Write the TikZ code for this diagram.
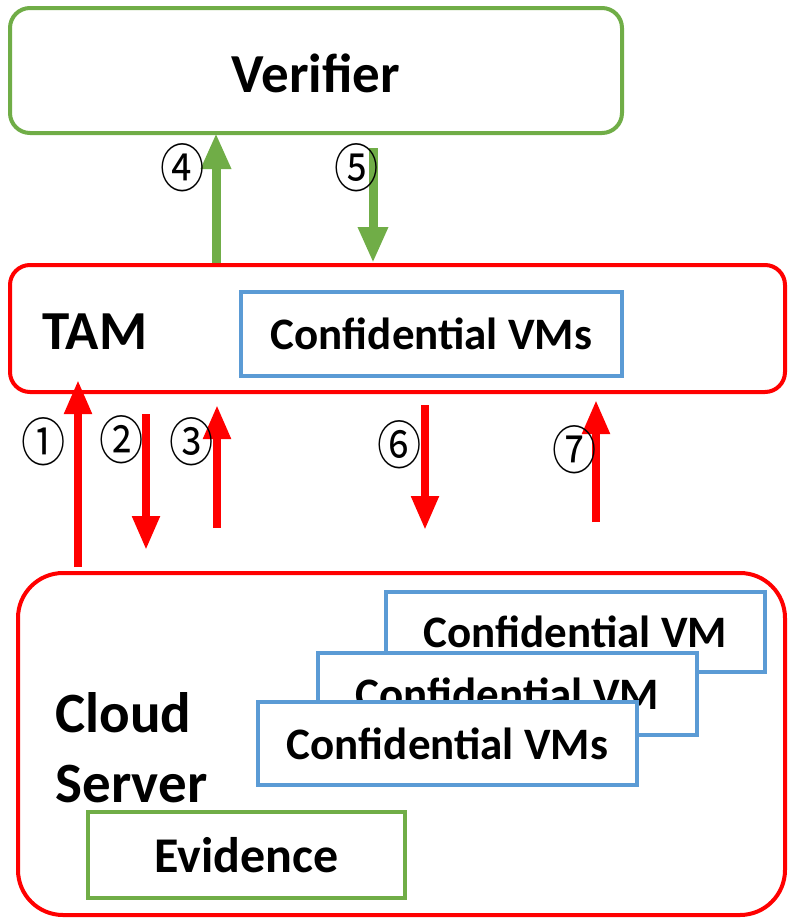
\documentclass[tikz,border=0pt]{standalone}
\usepackage{fontspec}
\setmainfont{Carlito}
\newfontfamily\circfont{Noto Sans CJK JP}
\usetikzlibrary{arrows.meta}
\definecolor{vgreen}{RGB}{112,173,71}
\definecolor{vblue}{RGB}{91,155,213}
\definecolor{vred}{RGB}{255,0,0}
\newcommand{\circn}[1]{\scalebox{0.85}[1]{#1}}
\tikzset{
  greenbox/.style={draw=vgreen, line width=4pt, rounded corners=20pt, fill=white},
  redbox/.style={draw=vred, line width=4pt, rounded corners=20pt, fill=white},
  bluebox/.style={draw=vblue, line width=4pt, fill=white},
  evbox/.style={draw=vgreen, line width=4pt, fill=white},
  bigtext/.style={font=\bfseries\fontsize{55}{66}\selectfont},
  vmtext/.style={font=\bfseries\fontsize{45}{54}\selectfont},
  redarr/.style={draw=vred, line width=8pt, -{Triangle[width=26pt,length=34pt]}},
  greenarr/.style={draw=vgreen, line width=9pt, -{Triangle[width=28pt,length=36pt]}},
  circnum/.style={font=\circfont\fontsize{52}{52}\selectfont, inner sep=0pt}
}
\begin{document}
\begin{tikzpicture}[x=1pt,y=-1pt]
\useasboundingbox (0,0) rectangle (788,919);

% Verifier
\node[greenbox, minimum width=612pt, minimum height=125pt] (ver) at (316,70.5) {};
\node[bigtext] (vertext) at (316,73) {Verifier};

% TAM
\node[redbox, minimum width=775pt, minimum height=127pt] (tam) at (397.5,328.5) {};
\node[bigtext] (tamtext) at (95,332) {TAM};
\node[bluebox, vmtext, minimum width=381pt, minimum height=84pt] (tamvm) at (431.5,334) {Confidential VMs};

% Cloud server
\node[redbox, rounded corners=45pt, minimum width=767pt, minimum height=342pt] (cloud) at (401.5,744) {};
\node[font=\bfseries\fontsize{57}{70}\selectfont, align=left, anchor=west] (cloudtext) at (52,748) {Cloud\\Server};
\node[bluebox, vmtext, minimum width=379pt, minimum height=80pt] (vm3) at (575.5,632) {Confidential VM};
\node[bluebox, vmtext, minimum width=379pt, minimum height=82pt] (vm2) at (507.5,694) {Confidential VM};
\node[bluebox, vmtext, minimum width=379pt, minimum height=83pt] (vm1) at (447.5,743.5) {Confidential VMs};
\node[evbox, font=\bfseries\fontsize{50}{60}\selectfont, minimum width=317pt, minimum height=86pt] (ev) at (246.5,855) {Evidence};

% coordinates for free ends
\coordinate (a2s) at (146,414);
\coordinate (a2e) at (146,550);
\coordinate (a3s) at (217,528);
\coordinate (a3e) at (217,405);
\coordinate (a6s) at (425,405);
\coordinate (a6e) at (425,530);
\coordinate (a7s) at (596,522);
\coordinate (a7e) at (596,400);
\coordinate (a5s) at (373,148);
\coordinate (x4) at (216,0);
\coordinate (x1) at (78,0);

% green arrows
\draw[greenarr] (tam.north -| x4) -- ([yshift=2pt]ver.south -| x4);
\draw[greenarr] (a5s) -- (tam.north -| a5s);

% red arrows
\draw[redarr] ([yshift=4pt]cloud.north -| x1) -- ([yshift=14pt]tam.south -| x1);
\draw[redarr] (a2s) -- (a2e);
\draw[redarr] (a3s) -- (a3e);
\draw[redarr] (a6s) -- (a6e);
\draw[redarr] (a7s) -- (a7e);

% circled numbers
\node[circnum] (n4) at (183,168) {\circn{④}};
\node[circnum] (n5) at (357,168) {\circn{⑤}};
\node[circnum] (n1) at (44,442) {\circn{①}};
\node[circnum] (n2) at (122,440) {\circn{②}};
\node[circnum] (n3) at (192,442) {\circn{③}};
\node[circnum] (n6) at (400,445) {\circn{⑥}};
\node[circnum] (n7) at (575,450) {\circn{⑦}};
\end{tikzpicture}
\end{document}
